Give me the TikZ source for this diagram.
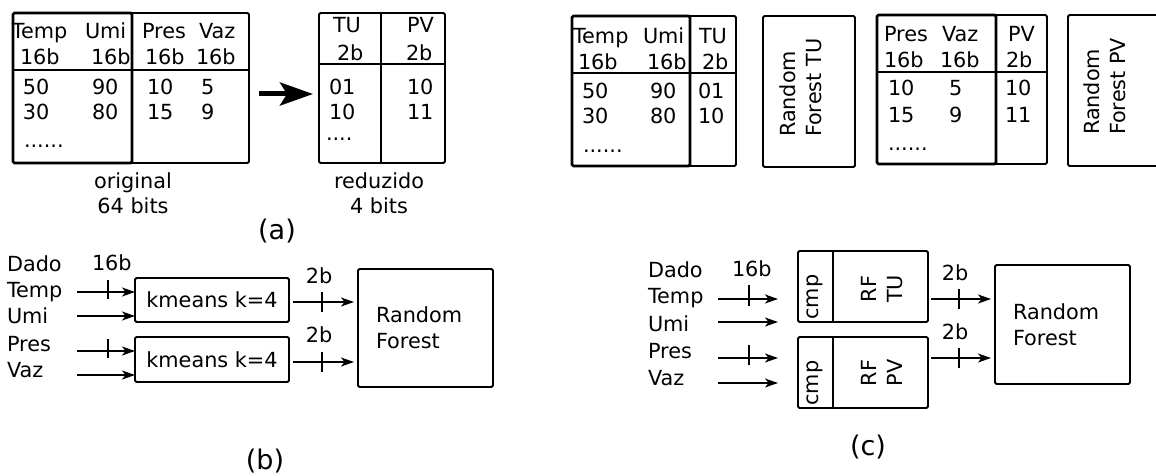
\documentclass[tikz,border=0pt]{standalone}
\usepackage{fontspec}
\setmainfont{DejaVu Sans}
\usetikzlibrary{arrows.meta}
\begin{document}
\begin{tikzpicture}[x=1pt,y=-1pt,
  every node/.style={inner sep=0pt, outer sep=0pt, font=\fontsize{20.8}{26}\selectfont},
  box/.style={draw, line width=1.8pt, rounded corners=1.5pt},
  thickbox/.style={draw, line width=2.6pt, rounded corners=1.5pt},
  rule/.style={line width=1.3pt},
  t/.style={anchor=base west},
  tc/.style={anchor=base},
  sublabel/.style={font=\fontsize{27}{32}\selectfont},
  sig/.style={line width=1.3pt, -{Stealth[length=13pt,width=9pt,inset=3.5pt]}},
  tick/.style={line width=1.3pt},
  bigarrow/.style={line width=5pt, -{Stealth[length=33pt,width=23pt,inset=7pt]}},
  vtext/.style={rotate=90, align=left, anchor=west},
]
\useasboundingbox (0,0) rectangle (1156,476);

% ================= (a)
\node[box, minimum width=236, minimum height=150] (orig) at (131,88) {};
\draw[thickbox] (orig.north west) rectangle (132,163);
\draw[rule] (13,70) -- (249,70);
\node[t] (a1) at (12,39) {Temp};
\node[t] (a2) at (85,39) {Umi};
\node[t] (a3) at (142,39) {Pres};
\node[t] (a4) at (199,39) {Vaz};
\node[t] (a5) at (20,65) {16b};
\node[t] (a6) at (91,65) {16b};
\node[t] (a7) at (145,65) {16b};
\node[t] (a8) at (196,65) {16b};
\node[t] (a9) at (23,95) {50};
\node[t] (a10) at (92,95) {90};
\node[t] (a11) at (147,95) {10};
\node[t] (a12) at (201,95) {5};
\node[t] (a13) at (23,120) {30};
\node[t] (a14) at (92,120) {80};
\node[t] (a15) at (147,120) {15};
\node[t] (a16) at (201,120) {9};
\node[t] (a17) at (24,147) {......};

\node[box, minimum width=126, minimum height=150] (red) at (382,88) {};
\draw[rule] (381,13) -- (381,163);
\draw[rule] (319,64) -- (445,64);
\node[t] (r1) at (333,33) {TU};
\node[t] (r2) at (407,33) {PV};
\node[t] (r3) at (337,61) {2b};
\node[t] (r4) at (406,61) {2b};
\node[t] (r5) at (329,95) {01};
\node[t] (r6) at (407,95) {10};
\node[t] (r7) at (329,120) {10};
\node[t] (r8) at (407,120) {11};
\node[t] (r9) at (326,141) {....};

\draw[bigarrow, shorten <=10pt, shorten >=6pt] ([yshift=-6pt]orig.east) -- ([yshift=-6pt]red.west);

\node[tc] (capo1) at (133,188) {original};
\node[tc] (capo2) at (133,213) {64 bits};
\node[tc] (capr1) at (379,188) {reduzido};
\node[tc] (capr2) at (379,213) {4 bits};
\node[sublabel] (labela) at (277,231) {(a)};

% ================= top right
\node[box, minimum width=164, minimum height=150] (tabtu) at (654,91) {};
\draw[thickbox] (tabtu.north west) rectangle (690,166);
\draw[rule] (572,73) -- (736,73);
\node[t] (b1) at (573,44) {Temp};
\node[t] (b2) at (643,44) {Umi};
\node[t] (b3) at (699,44) {TU};
\node[t] (b4) at (578,70) {16b};
\node[t] (b5) at (647,70) {16b};
\node[t] (b6) at (702,70) {2b};
\node[t] (b7) at (582,99) {50};
\node[t] (b8) at (650,99) {90};
\node[t] (b9) at (698,99) {01};
\node[t] (b10) at (582,124) {30};
\node[t] (b11) at (650,124) {80};
\node[t] (b12) at (698,124) {10};
\node[t] (b13) at (583,152) {......};

\node[box, minimum width=92, minimum height=151] (rftuA) at (809,91.5) {};
\node[vtext] (rftuAt) at (800.5,137) {Random\\Forest TU};

\node[box, minimum width=170, minimum height=149] (tabpv) at (962,89.5) {};
\draw[thickbox] (tabpv.north west) rectangle (996,164);
\draw[rule] (877,72) -- (1047,72);
\node[t] (c1) at (884,42) {Pres};
\node[t] (c2) at (942,42) {Vaz};
\node[t] (c3) at (1008,42) {PV};
\node[t] (c4) at (884,68) {16b};
\node[t] (c5) at (940,68) {16b};
\node[t] (c6) at (1006,68) {2b};
\node[t] (c7) at (888,96) {10};
\node[t] (c8) at (949,96) {5};
\node[t] (c9) at (1005,96) {10};
\node[t] (c10) at (888,123) {15};
\node[t] (c11) at (949,123) {9};
\node[t] (c12) at (1005,123) {11};
\node[t] (c13) at (888,150) {......};

\begin{scope}
\clip (0,0) rectangle (1156,476);
\node[box, minimum width=140, minimum height=151] (rfpvA) at (1138,90.5) {};
\end{scope}
\node[vtext] (rfpvAt) at (1104.5,135) {Random\\Forest PV};

% ================= (b)
\node[t] (bdado) at (7,271) {Dado};
\node[t] (btemp) at (7,297) {Temp};
\node[t] (bumi) at (7,323) {Umi};
\node[t] (bpres) at (7,351) {Pres};
\node[t] (bvaz) at (7,377) {Vaz};
\node[t] (b16) at (92,270) {16b};

\node[box, minimum width=154, minimum height=44] (km1) at (212,300) {kmeans k=4};
\node[box, minimum width=154, minimum height=45] (km2) at (212,359.5) {kmeans k=4};
\node[box, minimum width=135, minimum height=118, text width=99pt, align=left] (rfb) at (425.5,328) {Random\\Forest};

\coordinate (bin1) at (77,292);
\coordinate (bin2) at (77,316);
\coordinate (bin3) at (77,351);
\coordinate (bin4) at (77,375);
\draw[sig] (bin1) -- (bin1 -| km1.west);
\draw[sig] (bin2) -- (bin2 -| km1.west);
\draw[sig] (bin3) -- (bin3 -| km2.west);
\draw[sig] (bin4) -- (bin4 -| km2.west);
\draw[tick] (108,280) -- (108,299);
\draw[tick] (108,339) -- (108,358);

\coordinate (bo1) at (0,302);
\coordinate (bo2) at (0,362);
\draw[sig, shorten <=4pt, shorten >=4pt] (km1.east |- bo1) -- (rfb.west |- bo1);
\draw[sig, shorten <=4pt, shorten >=4pt] (km2.east |- bo2) -- (rfb.west |- bo2);
\draw[tick] (322,292) -- (322,312);
\draw[tick] (322,352) -- (322,372);
\node[tc] (b2b1) at (319,283) {2b};
\node[tc] (b2b2) at (319,342) {2b};

\node[sublabel] (labelb) at (265,461) {(b)};

% ================= (c)
\node[t] (cdado) at (648,277) {Dado};
\node[t] (ctemp) at (648,303) {Temp};
\node[t] (cumi) at (648,331) {Umi};
\node[t] (cpres) at (648,358) {Pres};
\node[t] (cvaz) at (648,385) {Vaz};
\node[t] (c16) at (732,276) {16b};

\node[box, minimum width=130, minimum height=71] (rftu) at (863,286.5) {};
\node[box, minimum width=130, minimum height=71] (rfpv) at (863,372.5) {};
\draw[rule] ([xshift=35pt]rftu.north west) -- ([xshift=35pt]rftu.south west);
\draw[rule] ([xshift=35pt]rfpv.north west) -- ([xshift=35pt]rfpv.south west);
\node[rotate=90] (cmp1) at (814.5,297) {cmp};
\node[rotate=90] (cmp2) at (814.5,383) {cmp};
\node[rotate=90, align=center] (rftut) at (882,289) {RF\\TU};
\node[rotate=90, align=center] (rfpvt) at (882,373) {RF\\PV};

\node[box, minimum width=135, minimum height=119, text width=99pt, align=left] (rfc) at (1062.5,324.5) {Random\\Forest};

\coordinate (cin1) at (718,299);
\coordinate (cin2) at (718,322);
\coordinate (cin3) at (718,358);
\coordinate (cin4) at (718,383);
\draw[sig, shorten >=20pt] (cin1) -- (cin1 -| rftu.west);
\draw[sig, shorten >=20pt] (cin2) -- (cin2 -| rftu.west);
\draw[sig, shorten >=20pt] (cin3) -- (cin3 -| rfpv.west);
\draw[sig, shorten >=20pt] (cin4) -- (cin4 -| rfpv.west);
\draw[tick] (749,285) -- (749,306);
\draw[tick] (749,345) -- (749,365);

\coordinate (co1) at (0,299);
\coordinate (co2) at (0,358);
\draw[sig, shorten <=3pt, shorten >=4pt] (rftu.east |- co1) -- (rfc.west |- co1);
\draw[sig, shorten <=3pt, shorten >=4pt] (rfpv.east |- co2) -- (rfc.west |- co2);
\draw[tick] (959,289) -- (959,309);
\draw[tick] (959,348) -- (959,368);
\node[tc] (c2b1) at (955,280) {2b};
\node[tc] (c2b2) at (955,339) {2b};

\node[sublabel] (labelc) at (868,447) {(c)};
\end{tikzpicture}
\end{document}
